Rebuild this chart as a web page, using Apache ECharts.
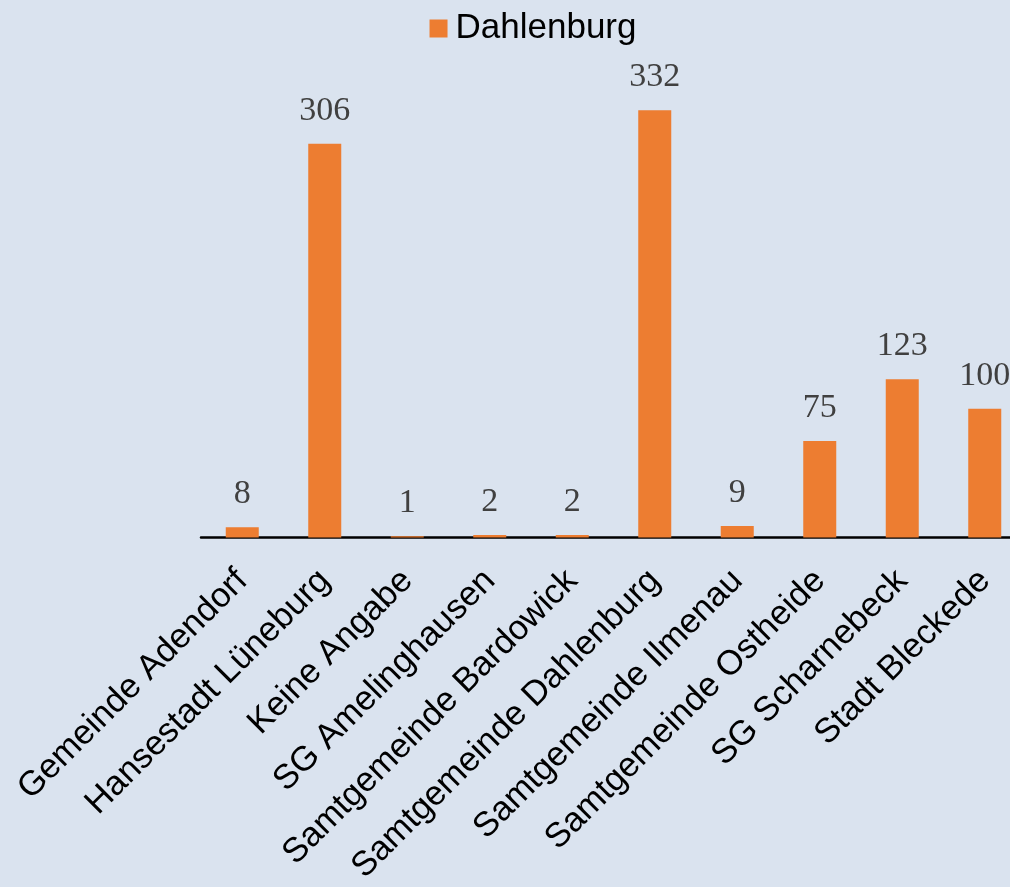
<!DOCTYPE html>
<html>
<head>
<meta charset="utf-8">
<script src="https://cdn.jsdelivr.net/npm/echarts@6/dist/echarts.min.js"></script>
<style>
html,body{margin:0;padding:0;background:#dae3ef;overflow:hidden;width:1010px;height:887px;}
#chart{width:1066px;height:887px;}
</style>
</head>
<body>
<div id="chart"></div>
<script>
const categories = ["Gemeinde Adendorf","Hansestadt Lüneburg","Keine Angabe","SG Amelinghausen","Samtgemeinde Bardowick","Samtgemeinde Dahlenburg","Samtgemeinde Ilmenau","Samtgemeinde Ostheide","SG Scharnebeck","Stadt Bleckede"];
const seriesName = "Dahlenburg";
const values = [8,306,1,2,2,332,9,75,123,100];

const chart = echarts.init(document.getElementById('chart'));
chart.setOption({
  backgroundColor: '#dae3ef',
  animation: false,
  legend: {
    top: 6,
    left: 'center',
    itemWidth: 18,
    itemHeight: 18,
    icon: 'rect',
    itemGap: 10,
    textStyle: {fontFamily: 'Liberation Sans', fontSize: 35, color: '#000', padding: [0,0,0,3]},
    data: [seriesName]
  },
  grid: {left: 201, width: 825, top: 87, bottom: 343, containLabel: false},
  xAxis: {
    type: 'category',
    data: categories,
    axisLine: {show: true, lineStyle: {color: '#000', width: 2.5}},
    axisTick: {show: false},
    axisLabel: {rotate: 45, interval: 0, margin: 38, fontFamily: 'Liberation Sans', fontSize: 34.5, color: '#000'}
  },
  yAxis: {
    type: 'value', min: 0, max: 350,
    show: false,
    splitLine: {show: false}
  },
  series: [{
    name: seriesName,
    type: 'bar',
    data: values,
    barWidth: 33,
    itemStyle: {color: '#ed7d31'},
    label: {show: true, position: 'top', distance: 16, fontFamily: 'Liberation Serif', fontSize: 34, color: '#404040'}
  }]
});
</script>
</body>
</html>
